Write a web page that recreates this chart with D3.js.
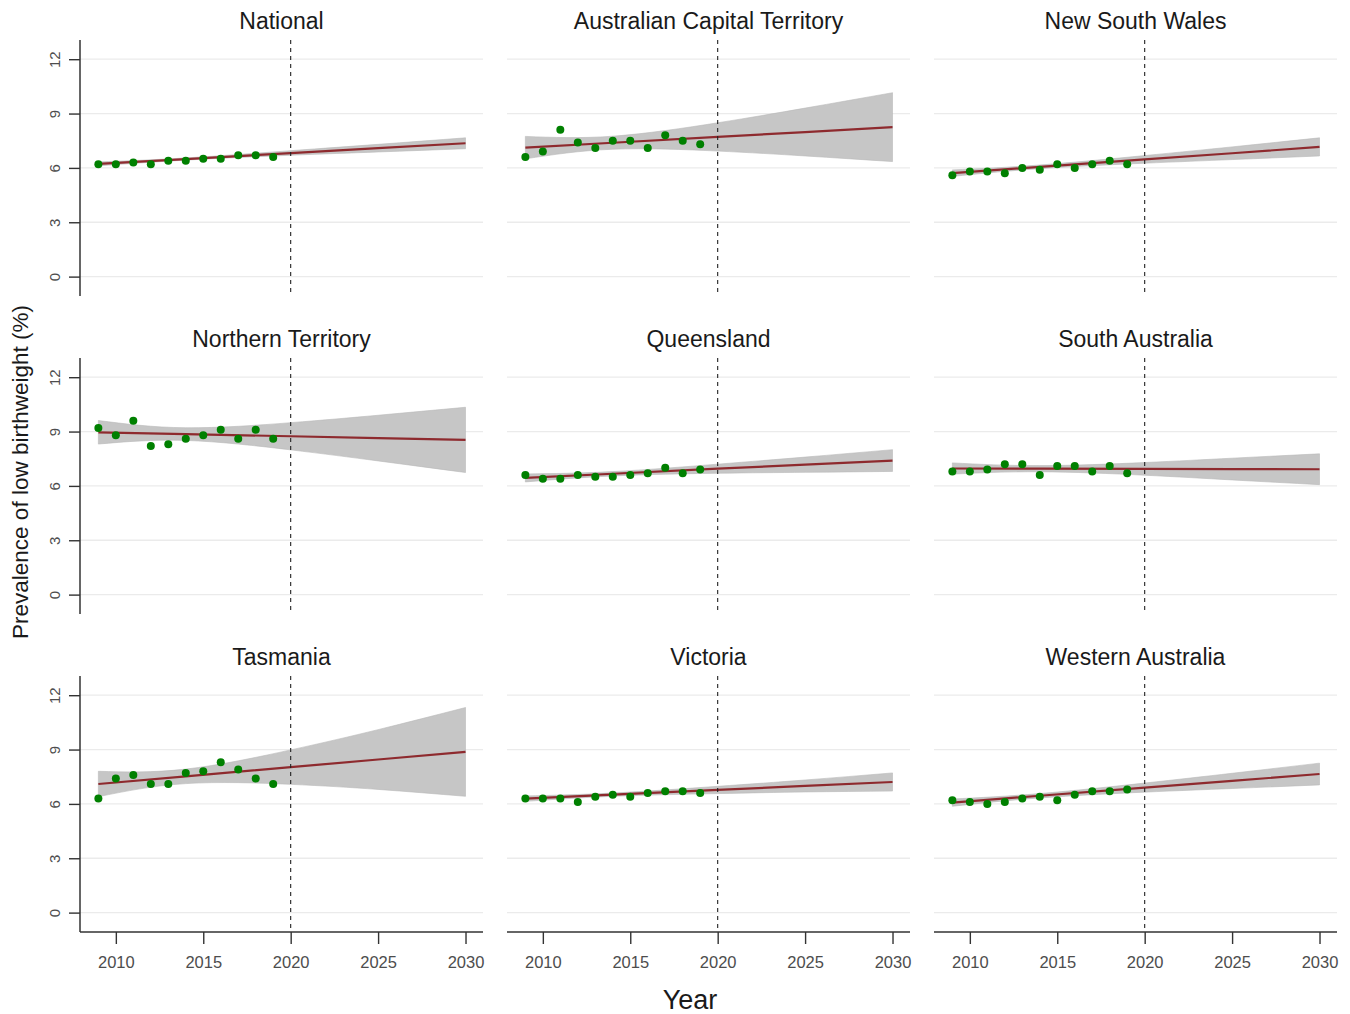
<!DOCTYPE html>
<html><head><meta charset="utf-8">
<script src="https://cdn.jsdelivr.net/npm/d3@7"></script>
<style>body{margin:0;background:#fff;font-family:"Liberation Sans",Arial,sans-serif;}</style>
</head><body><svg id="c" width="1350" height="1014"></svg>
<script>
const regions = ["National","Australian Capital Territory","New South Wales","Northern Territory","Queensland","South Australia","Tasmania","Victoria","Western Australia"];
const years = [2009,2010,2011,2012,2013,2014,2015,2016,2017,2018,2019];
const observed = [
  [6.2,6.2,6.3,6.2,6.4,6.4,6.5,6.5,6.7,6.7,6.6],
  [6.6,6.9,8.1,7.4,7.1,7.5,7.5,7.1,7.8,7.5,7.3],
  [5.6,5.8,5.8,5.7,6.0,5.9,6.2,6.0,6.2,6.4,6.2],
  [9.2,8.8,9.6,8.2,8.3,8.6,8.8,9.1,8.6,9.1,8.6],
  [6.6,6.4,6.4,6.6,6.5,6.5,6.6,6.7,7.0,6.7,6.9],
  [6.8,6.8,6.9,7.2,7.2,6.6,7.1,7.1,6.8,7.1,6.7],
  [6.3,7.4,7.6,7.1,7.1,7.7,7.8,8.3,7.9,7.4,7.1],
  [6.3,6.3,6.3,6.1,6.4,6.5,6.4,6.6,6.7,6.7,6.6],
  [6.2,6.1,6.0,6.1,6.3,6.4,6.2,6.5,6.7,6.7,6.8]
];
const fitYears = [2009,2014,2020,2025,2030];
const fitted = [
  [6.22,6.49,6.82,7.09,7.36],
  [7.12,7.39,7.71,7.98,8.25],
  [5.71,6.06,6.47,6.81,7.16],
  [8.96,8.86,8.74,8.64,8.54],
  [6.44,6.67,6.95,7.17,7.40],
  [6.96,6.95,6.94,6.93,6.92],
  [7.10,7.52,8.03,8.45,8.87],
  [6.29,6.51,6.77,6.99,7.21],
  [6.07,6.45,6.90,7.27,7.65]
];
const lower = [
  [6.11,6.43,6.70,6.88,7.06],
  [6.50,7.03,6.93,6.66,6.35],
  [5.53,5.96,6.26,6.46,6.66],
  [8.31,8.51,7.99,7.38,6.74],
  [6.22,6.55,6.70,6.75,6.80],
  [6.65,6.78,6.59,6.33,6.07],
  [6.40,7.12,7.08,6.80,6.42],
  [6.14,6.42,6.57,6.66,6.71],
  [5.87,6.33,6.65,6.85,7.05]
];
const upper = [
  [6.33,6.55,6.95,7.30,7.66],
  [7.74,7.75,8.49,9.30,10.15],
  [5.89,6.16,6.68,7.16,7.66],
  [9.61,9.21,9.49,9.90,10.34],
  [6.66,6.79,7.20,7.59,8.00],
  [7.27,7.12,7.29,7.53,7.77],
  [7.80,7.92,8.98,10.10,11.32],
  [6.44,6.60,6.97,7.32,7.71],
  [6.27,6.57,7.15,7.69,8.25]
];
const yTicks = [0,3,6,9,12];
const xTicks = [2010,2015,2020,2025,2030];
const cutYear = 2020;

const svg = d3.select("#c");
const colX = [80,507,934], rowY = [40,358,676];
const pw = 403, ph = 256;
const x = d3.scaleLinear().domain([2007.95,2031.0]).range([0,pw]);
const y = d3.scaleLinear().domain([-1.07,13.06]).range([ph,0]);

regions.forEach((name,i)=>{
  const c = i%3, r = Math.floor(i/3);
  const g = svg.append("g").attr("transform",`translate(${colX[c]},${rowY[r]})`);
  g.selectAll("line.grid").data(yTicks).join("line")
    .attr("x1",0).attr("x2",pw).attr("y1",d=>y(d)).attr("y2",d=>y(d))
    .attr("stroke","#ebebeb").attr("stroke-width",1.3);
  const bd = fitYears.map((yr,k)=>({yr,lo:lower[i][k],hi:upper[i][k]}));
  g.append("path").datum(bd)
    .attr("d",d3.area().curve(d3.curveNatural).x(d=>x(d.yr)).y0(d=>y(d.lo)).y1(d=>y(d.hi)))
    .attr("fill","#c6c6c6").attr("stroke","#b8b8b8").attr("stroke-width",0.6);
  const fd = fitYears.map((yr,k)=>({yr,v:fitted[i][k]}));
  g.append("path").datum(fd)
    .attr("d",d3.line().x(d=>x(d.yr)).y(d=>y(d.v)))
    .attr("fill","none").attr("stroke","#8e2a2e").attr("stroke-width",2.2);
  g.append("line").attr("x1",x(cutYear)).attr("x2",x(cutYear)).attr("y1",0).attr("y2",ph)
    .attr("stroke","#222").attr("stroke-width",1.1).attr("stroke-dasharray","4,4");
  g.selectAll("circle").data(years.map((yr,k)=>({yr,v:observed[i][k]}))).join("circle")
    .attr("cx",d=>x(d.yr)).attr("cy",d=>y(d.v)).attr("r",4).attr("fill","#008000");
  svg.append("text").attr("x",colX[c]+pw/2).attr("y",rowY[r]-11)
    .attr("text-anchor","middle").attr("font-size",23).attr("fill","#1a1a1a").text(name);
  if (c===0){
    const ya = g.append("g").call(d3.axisLeft(y).tickValues(yTicks).tickSize(11).tickPadding(6));
    ya.select(".domain").attr("stroke","#333").attr("stroke-width",1.5).attr("d",`M0,0V${ph}`);
    ya.selectAll(".tick line").attr("stroke","#333").attr("stroke-width",1.4);
    ya.selectAll(".tick text").attr("font-size",15).attr("fill","#4d4d4d")
      .attr("font-family","Liberation Sans, Arial, sans-serif")
      .attr("transform","rotate(-90)").attr("x",0).attr("dy",null)
      .attr("y",-20).attr("text-anchor","middle");
  }
  if (r===2){
    const xa = g.append("g").attr("transform",`translate(0,${ph})`)
      .call(d3.axisBottom(x).tickValues(xTicks).tickFormat(d3.format("d")).tickSize(12).tickPadding(12));
    xa.select(".domain").attr("stroke","#333").attr("stroke-width",1.5).attr("d",`M0,0H${pw}`);
    xa.selectAll(".tick line").attr("stroke","#333").attr("stroke-width",1.4);
    xa.selectAll(".tick text").attr("font-size",16.5).attr("fill","#4d4d4d")
      .attr("font-family","Liberation Sans, Arial, sans-serif");
  }
});
svg.append("text").attr("x",690).attr("y",1009).attr("text-anchor","middle")
  .attr("font-size",27).attr("fill","#1a1a1a").text("Year");
svg.append("text").attr("transform","translate(28,472) rotate(-90)").attr("text-anchor","middle")
  .attr("font-size",22.5).attr("fill","#1a1a1a").text("Prevalence of low birthweight (%)");
</script></body></html>
